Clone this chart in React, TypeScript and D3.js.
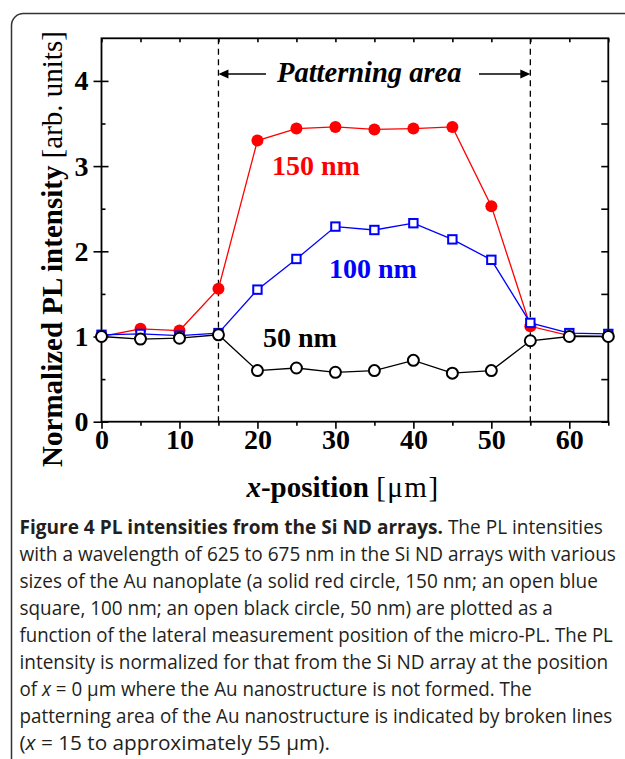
import { useEffect, useRef } from 'react';
import * as d3 from 'd3';

// x-position [um] of each measurement
const positions = [0, 5, 10, 15, 20, 25, 30, 35, 40, 45, 50, 55, 60, 65];
// normalized PL intensity for each Au nanoplate size
const intensity150 = [1.0, 1.09, 1.07, 1.56, 3.3, 3.44, 3.46, 3.43, 3.44, 3.46, 2.53, 1.12, 1.01, 1.0];
const intensity100 = [1.02, 1.03, 1.01, 1.04, 1.55, 1.91, 2.29, 2.25, 2.33, 2.14, 1.9, 1.16, 1.04, 1.03];
const intensity50 = [1.0, 0.97, 0.98, 1.02, 0.6, 0.63, 0.58, 0.6, 0.72, 0.57, 0.6, 0.95, 1.0, 1.0];

const xTicks = [0, 10, 20, 30, 40, 50, 60];
const xMinorTicks = [5, 15, 25, 35, 45, 55, 65];
const yTicks = [0, 1, 2, 3, 4];
const yMinorTicks = [0.5, 1.5, 2.5, 3.5];
const patterning = [15, 55];

type Seg = { t: string; b?: boolean; i?: boolean };
const captionLines: Seg[][] = [
  [{ t: 'Figure 4 PL intensities from the Si ND arrays.', b: true }, { t: ' The PL intensities' }],
  [{ t: 'with a wavelength of 625 to 675 nm in the Si ND arrays with various' }],
  [{ t: 'sizes of the Au nanoplate (a solid red circle, 150 nm; an open blue' }],
  [{ t: 'square, 100 nm; an open black circle, 50 nm) are plotted as a' }],
  [{ t: 'function of the lateral measurement position of the micro-PL. The PL' }],
  [{ t: 'intensity is normalized for that from the Si ND array at the position' }],
  [{ t: 'of ' }, { t: 'x', i: true }, { t: ' = 0 \u03bcm where the Au nanostructure is not formed. The' }],
  [{ t: 'patterning area of the Au nanostructure is indicated by broken lines' }],
  [{ t: '(' }, { t: 'x', i: true }, { t: ' = 15 to approximately 55 \u03bcm).' }],
];
// right end of each caption line (layout)
const captionEnds = [603, 616, 598, 553, 613, 608, 532, 612, 330];

const W = 625;
const H = 759;
const serif = '"Liberation Serif", "Times New Roman", serif';

export default function App() {
  const svgRef = useRef<SVGSVGElement>(null);

  useEffect(() => {
    if (!svgRef.current) return;
    const svg = d3.select(svgRef.current);
    svg.selectAll('*').remove();

    svg.append('rect').attr('width', W).attr('height', H).attr('fill', 'white');

    // rounded figure border (only top and left visible)
    svg.append('path')
      .attr('d', `M11.5,${H + 30} L11.5,25.5 A12,12 0 0 1 23.5,13.5 L${W + 30},13.5`)
      .attr('fill', 'none')
      .attr('stroke', '#333')
      .attr('stroke-width', 1.5);

    const x = d3.scaleLinear().domain([0, 65]).range([101.5, 608.3]);
    const y = d3.scaleLinear().domain([0, 4.5]).range([421.7, 38.3]);
    const [x0, x1] = x.range();
    const [y0, y1] = y.range();

    // dashed patterning boundaries
    svg.selectAll('.pattern')
      .data(patterning)
      .enter().append('line')
      .attr('x1', d => x(d)).attr('x2', d => x(d))
      .attr('y1', y1).attr('y2', y0)
      .attr('stroke', 'black')
      .attr('stroke-width', 1.3)
      .attr('stroke-dasharray', '6,4.5');

    // axes
    const axisStyle = (g: any) => {
      g.selectAll('.domain').remove();
      g.selectAll('.tick line').attr('stroke', 'black').attr('stroke-width', 1.6);
      g.selectAll('.tick text')
        .attr('fill', 'black')
        .style('font-family', serif)
        .style('font-weight', 'bold')
        .style('font-size', '28px');
    };

    svg.append('g').attr('transform', `translate(0,${y0})`)
      .call(d3.axisBottom(x).tickValues(xTicks).tickSize(7).tickPadding(0).tickFormat(d3.format('d')))
      .call(axisStyle);
    svg.append('g').attr('transform', `translate(0,${y0})`)
      .call(d3.axisBottom(x).tickValues(xMinorTicks).tickSize(4).tickFormat(() => ''))
      .call(axisStyle);
    svg.append('g').attr('transform', `translate(0,${y1})`)
      .call(d3.axisBottom(x).tickValues(xTicks.concat(xMinorTicks)).tickSize(4).tickFormat(() => ''))
      .call(axisStyle);

    svg.append('g').attr('transform', `translate(${x0},0)`)
      .call(d3.axisLeft(y).tickValues(yTicks).tickSize(8).tickPadding(5).tickFormat(d3.format('d')))
      .call(axisStyle);
    svg.append('g').attr('transform', `translate(${x0},0)`)
      .call(d3.axisLeft(y).tickValues(yTicks).tickSize(-7).tickFormat(() => ''))
      .call(axisStyle);
    svg.append('g').attr('transform', `translate(${x0},0)`)
      .call(d3.axisLeft(y).tickValues(yMinorTicks).tickSize(-4).tickFormat(() => ''))
      .call(axisStyle);
    svg.append('g').attr('transform', `translate(${x1},0)`)
      .call(d3.axisRight(y).tickValues(yTicks.concat(yMinorTicks)).tickSize(-7).tickFormat(() => ''))
      .call(axisStyle);

    // frame
    svg.append('rect')
      .attr('x', x0).attr('y', y1)
      .attr('width', x1 - x0).attr('height', y0 - y1)
      .attr('fill', 'none')
      .attr('stroke', 'black')
      .attr('stroke-width', 1.8);

    const line = d3.line<number>()
      .x((_, i) => x(positions[i]))
      .y(d => y(d));

    // 150 nm: solid red circles
    svg.append('path').datum(intensity150)
      .attr('d', line).attr('fill', 'none').attr('stroke', '#ff0000').attr('stroke-width', 1.3);
    svg.selectAll('.p150').data(intensity150).enter().append('circle')
      .attr('cx', (_, i) => x(positions[i])).attr('cy', d => y(d))
      .attr('r', 6).attr('fill', '#ff0000');

    // 100 nm: open blue squares
    svg.append('path').datum(intensity100)
      .attr('d', line).attr('fill', 'none').attr('stroke', '#0000ff').attr('stroke-width', 1.3);
    svg.selectAll('.p100').data(intensity100).enter().append('rect')
      .attr('x', (_, i) => x(positions[i]) - 4.2).attr('y', d => y(d) - 4.2)
      .attr('width', 8.4).attr('height', 8.4)
      .attr('fill', 'white').attr('stroke', '#0000ff').attr('stroke-width', 2);

    // 50 nm: open black circles
    svg.append('path').datum(intensity50)
      .attr('d', line).attr('fill', 'none').attr('stroke', 'black').attr('stroke-width', 1.3);
    svg.selectAll('.p50').data(intensity50).enter().append('circle')
      .attr('cx', (_, i) => x(positions[i])).attr('cy', d => y(d))
      .attr('r', 5.5).attr('fill', 'white').attr('stroke', 'black').attr('stroke-width', 2);

    // series labels
    const labels = [
      { t: '150 nm', c: '#ff0000', x: 272, y: 175 },
      { t: '100 nm', c: '#0000ff', x: 329, y: 278 },
      { t: '50 nm', c: 'black', x: 263, y: 347 },
    ];
    svg.selectAll('.lbl').data(labels).enter().append('text')
      .attr('x', d => d.x).attr('y', d => d.y)
      .attr('fill', d => d.c)
      .style('font-family', serif).style('font-weight', 'bold').style('font-size', '28px')
      .text(d => d.t);

    // patterning area annotation
    const ay = 74;
    svg.append('line').attr('x1', x(patterning[0]) + 8).attr('x2', 266).attr('y1', ay).attr('y2', ay)
      .attr('stroke', 'black').attr('stroke-width', 1.4);
    svg.append('path')
      .attr('d', `M${x(patterning[0])},${ay} l10,-4.5 l0,9 z`).attr('fill', 'black');
    svg.append('line').attr('x1', 479).attr('x2', x(patterning[1]) - 8).attr('y1', ay).attr('y2', ay)
      .attr('stroke', 'black').attr('stroke-width', 1.4);
    svg.append('path')
      .attr('d', `M${x(patterning[1])},${ay} l-10,-4.5 l0,9 z`).attr('fill', 'black');
    svg.append('text')
      .attr('x', 277).attr('y', 82)
      .style('font-family', serif).style('font-weight', 'bold').style('font-style', 'italic')
      .style('font-size', '28.5px')
      .text('Patterning area');

    // axis titles
    const yt = svg.append('text')
      .attr('transform', `translate(62,249) rotate(-90)`)
      .attr('text-anchor', 'middle')
      .style('font-family', serif).style('font-size', '29px').attr('fill', 'black');
    yt.append('tspan').style('font-weight', 'bold').text('Normalized PL intensity ');
    yt.append('tspan').text('[arb. units]');

    const xt = svg.append('text')
      .attr('x', 343).attr('y', 497)
      .attr('text-anchor', 'middle')
      .style('font-family', serif).style('font-size', '29px').attr('fill', 'black');
    xt.append('tspan').style('font-weight', 'bold').style('font-style', 'italic').text('x');
    xt.append('tspan').style('font-weight', 'bold').text('-position ');
    xt.append('tspan').style('letter-spacing', '1.5px').text('[\u03bcm]');

    // caption, each line squeezed horizontally to its width in the figure
    const cap = svg.append('g')
      .style('font-family', '"Open Sans", sans-serif')
      .style('font-size', '19.5px')
      .attr('fill', '#231f20');
    const capTexts = captionLines.map(segs => {
      const t = cap.append('text').attr('x', 0).attr('y', 0);
      segs.forEach(s => {
        t.append('tspan')
          .style('font-weight', s.b ? 'bold' : 'normal')
          .style('font-style', s.i ? 'italic' : 'normal')
          .text(s.t);
      });
      return t;
    });
    const fitCaption = () => {
      capTexts.forEach((t, i) => {
        const natural = (t.node() as SVGTextElement).getComputedTextLength() || 1;
        const k = (captionEnds[i] - 19.5) / natural;
        t.attr('transform', `translate(19.5,${534 + i * 27}) scale(${k},1)`);
      });
    };
    fitCaption();
    if ((document as any).fonts) (document as any).fonts.ready.then(fitCaption);
  }, []);

  return (
    <svg
      ref={svgRef}
      width={W}
      height={H}
      style={{ position: 'absolute', left: 0, top: 0, display: 'block' }}
    />
  );
}
